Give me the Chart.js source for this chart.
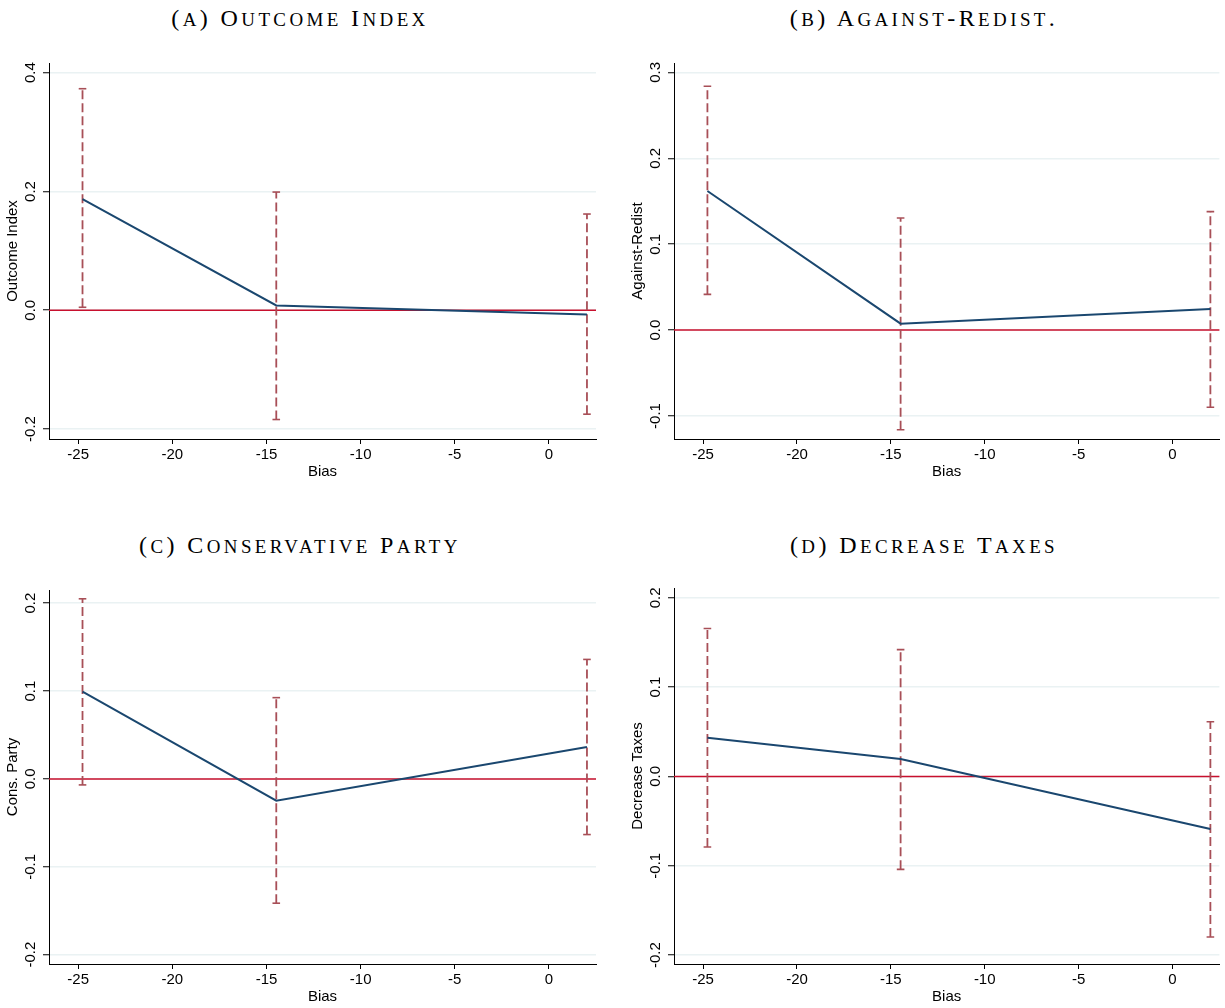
<!DOCTYPE html>
<html lang="en">
<head>
    <meta charset="UTF-8">
    <title>Bias effects by outcome</title>
    <script src="https://cdn.jsdelivr.net/npm/chart.js"></script>
    <style>
        html, body { margin: 0; padding: 0; background: #fff; }
        body { position: relative; width: 1225px; height: 1008px; overflow: hidden; }
        .ttl {
            position: absolute;
            width: 600px;
            text-align: center;
            font-family: "Liberation Serif", serif;
            font-size: 24px;
            letter-spacing: 3.4px;
            color: #000;
            line-height: 30px;
        }
        .ttl .sc { font-size: 0.79em; text-transform: uppercase; }
        .panel { position: absolute; }
    </style>
</head>
<body>
    <div class="ttl" id="ttl0" style="left:0px; top:3px;"></div>
    <div class="ttl" id="ttl1" style="left:624px; top:3px;"></div>
    <div class="ttl" id="ttl2" style="left:0px; top:530px;"></div>
    <div class="ttl" id="ttl3" style="left:624px; top:530px;"></div>

    <div class="panel" style="left:0px; top:45px; width:612px; height:436px;"><canvas id="c0"></canvas></div>
    <div class="panel" style="left:625px; top:45px; width:600px; height:436px;"><canvas id="c1"></canvas></div>
    <div class="panel" style="left:0px; top:572px; width:612px; height:434px;"><canvas id="c2"></canvas></div>
    <div class="panel" style="left:625px; top:570px; width:600px; height:436px;"><canvas id="c3"></canvas></div>

    <script>
        // Bias bins (x position of each estimate)
        const biasX = [-24.77, -14.48, 2.02];
        const xTicks = [-25, -20, -15, -10, -5, 0];

        // Point estimates and 95% CI bounds
        const outcomeEst = [0.187, 0.008, -0.007];
        const outcomeLo = [0.005, -0.184, -0.175];
        const outcomeHi = [0.373, 0.199, 0.162];

        const redistEst = [0.162, 0.0075, 0.0245];
        const redistLo = [0.0416, -0.116, -0.0898];
        const redistHi = [0.284, 0.1306, 0.138];

        const consEst = [0.0993, -0.0247, 0.0364];
        const consLo = [-0.0068, -0.1414, -0.0633];
        const consHi = [0.205, 0.0925, 0.136];

        const taxesEst = [0.0433, 0.0195, -0.0589];
        const taxesLo = [-0.079, -0.104, -0.1798];
        const taxesHi = [0.1657, 0.142, 0.0612];

        const yTicksOutcome = [-0.2, 0, 0.2, 0.4];
        const yTicksRedist = [-0.1, 0, 0.1, 0.2, 0.3];
        const yTicksCons = [-0.2, -0.1, 0, 0.1, 0.2];
        const yTicksTaxes = [-0.2, -0.1, 0, 0.1, 0.2];

        const panels = [
            { title: '(a) Outcome Index', yLabel: 'Outcome Index', est: outcomeEst, lo: outcomeLo, hi: outcomeHi,
              yTicks: yTicksOutcome, yMin: -0.2168, yMax: 0.4163, padRight: 16, padTop: 18 },
            { title: '(b) Against-Redist.', yLabel: 'Against-Redist', est: redistEst, lo: redistLo, hi: redistHi,
              yTicks: yTicksRedist, yMin: -0.1268, yMax: 0.311, padRight: 2, padTop: 18 },
            { title: '(c) Conservative Party', yLabel: 'Cons. Party', est: consEst, lo: consLo, hi: consHi,
              yTicks: yTicksCons, yMin: -0.2106, yMax: 0.215, padRight: 16, padTop: 18 },
            { title: '(d) Decrease Taxes', yLabel: 'Decrease Taxes', est: taxesEst, lo: taxesLo, hi: taxesHi,
              yTicks: yTicksTaxes, yMin: -0.210, yMax: 0.211, padRight: 3, padTop: 18 }
        ];

        const NAVY = '#1a476f';
        const CI_COLOR = '#a84f57';
        const ZERO_COLOR = '#c8102e';
        const GRID_COLOR = '#eaf2f3';
        const AXIS_FONT = { family: '"Liberation Sans", Arial, sans-serif', size: 15 };

        // lowercase letters become reduced capitals, like \textsc
        function smallCaps(text) {
            let html = '';
            for (const ch of text) {
                if (ch >= 'a' && ch <= 'z') html += '<span class="sc">' + ch + '</span>';
                else html += ch;
            }
            return html;
        }

        // horizontal reference line at zero across the plot region
        const zeroLine = {
            id: 'zeroLine',
            beforeDatasetsDraw(chart) {
                const { ctx, chartArea, scales } = chart;
                const y = scales.y.getPixelForValue(0);
                ctx.save();
                ctx.strokeStyle = ZERO_COLOR;
                ctx.lineWidth = 1.5;
                ctx.beginPath();
                ctx.moveTo(chartArea.left, y);
                ctx.lineTo(chartArea.right, y);
                ctx.stroke();
                ctx.restore();
            }
        };

        panels.forEach((p, i) => {
            document.getElementById('ttl' + i).innerHTML = smallCaps(p.title);

            const datasets = [{
                label: p.yLabel,
                data: biasX.map((x, k) => ({ x: x, y: p.est[k] })),
                borderColor: NAVY,
                borderWidth: 2,
                pointRadius: 0,
                fill: false
            }];
            biasX.forEach((x, k) => {
                datasets.push({
                    label: 'CI ' + k,
                    data: [{ x: x, y: p.lo[k] }, { x: x, y: p.hi[k] }],
                    borderColor: CI_COLOR,
                    borderWidth: 1.8,
                    borderDash: [9, 4],
                    pointStyle: 'line',
                    pointRadius: 3.8,
                    pointBorderColor: CI_COLOR,
                    pointBorderWidth: 1.6,
                    fill: false
                });
            });

            new Chart(document.getElementById('c' + i), {
                type: 'line',
                data: { datasets: datasets },
                options: {
                    responsive: true,
                    maintainAspectRatio: false,
                    animation: false,
                    events: [],
                    layout: { padding: { top: p.padTop, right: p.padRight, left: 0, bottom: 0 } },
                    plugins: {
                        legend: { display: false },
                        tooltip: { enabled: false }
                    },
                    scales: {
                        x: {
                            type: 'linear',
                            min: -26.55,
                            max: 2.5,
                            afterBuildTicks: (s) => { s.ticks = xTicks.map(v => ({ value: v })); },
                            afterFit: (s) => { s.height = 42; },
                            border: { display: true, color: '#000', width: 1 },
                            grid: { drawOnChartArea: false, drawTicks: true, tickLength: 5, tickColor: '#000', tickWidth: 1 },
                            ticks: { color: '#000', font: AXIS_FONT, padding: 2, maxRotation: 0, callback: v => String(v) },
                            title: { display: true, text: 'Bias', color: '#000', font: AXIS_FONT, padding: { top: 0, bottom: 0 } }
                        },
                        y: {
                            type: 'linear',
                            min: p.yMin,
                            max: p.yMax,
                            afterBuildTicks: (s) => { s.ticks = p.yTicks.map(v => ({ value: v })); },
                            afterFit: (s) => { s.width = 49; },
                            border: { display: true, color: '#000', width: 1 },
                            grid: { color: GRID_COLOR, lineWidth: 1.5, drawTicks: true, tickLength: 6, tickColor: '#000', tickWidth: 1 },
                            ticks: {
                                color: '#000', font: AXIS_FONT,
                                minRotation: 90, maxRotation: 90,
                                crossAlign: 'center', padding: -1,
                                callback: v => v.toFixed(1)
                            },
                            title: { display: true, text: p.yLabel, color: '#000', font: AXIS_FONT, padding: { top: 4, bottom: 0 } }
                        }
                    }
                },
                plugins: [zeroLine]
            });
        });
    </script>
</body>
</html>
